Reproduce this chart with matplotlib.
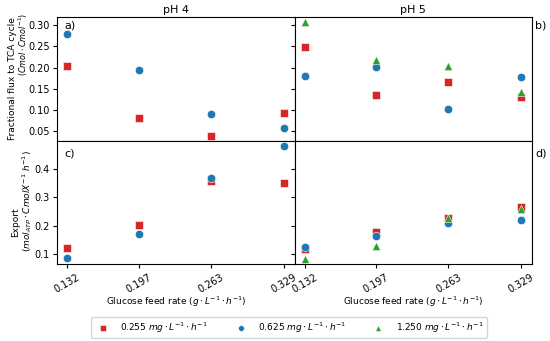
import numpy as np
from matplotlib import pyplot as plt

feed = [0.132, 0.197, 0.263, 0.329]
feed_labels = ['0.132', '0.197', '0.263', '0.329']
conc_labels = ['0.255 $mg \\cdot L^{-1} \\cdot h^{-1}$',
               '0.625 $mg \\cdot L^{-1} \\cdot h^{-1}$',
               '1.250 $mg \\cdot L^{-1} \\cdot h^{-1}$']

# fractional flux to TCA
tca_ph4_low = [0.203, 0.081, 0.039, 0.093]
tca_ph4_mid = [0.278, 0.195, 0.090, 0.057]
tca_ph5_low = [0.249, 0.135, 0.167, 0.131]
tca_ph5_mid = [0.180, 0.201, 0.103, 0.179]
tca_ph5_high = [0.307, 0.217, 0.203, 0.143]

# ATP export
atp_ph4_low = [0.120, 0.201, 0.358, 0.349]
atp_ph4_mid = [0.087, 0.170, 0.366, 0.478]
atp_ph5_low = [0.119, 0.176, 0.227, 0.264]
atp_ph5_mid = [0.123, 0.164, 0.210, 0.218]
atp_ph5_high = [0.083, 0.129, 0.225, 0.257]

colors = ['#d62728', '#1f77b4', '#2ca02c']
markers = ['s', 'o', '^']


def plotter():
    plt.rcParams.update({'font.size': 7})
    fig, axs = plt.subplots(2, 2, figsize=(5.5, 3.41), dpi=100, sharex=True, sharey='row')
    fig.subplots_adjust(left=0.104, right=0.967, top=0.95, bottom=0.225, wspace=0, hspace=0)

    data = {
        (0, 0): [tca_ph4_low, tca_ph4_mid, None],
        (0, 1): [tca_ph5_low, tca_ph5_mid, tca_ph5_high],
        (1, 0): [atp_ph4_low, atp_ph4_mid, None],
        (1, 1): [atp_ph5_low, atp_ph5_mid, atp_ph5_high],
    }
    for (r, c), series in data.items():
        ax = axs[r, c]
        for i, ys in enumerate(series):
            if ys is None:
                continue
            ax.scatter(feed, ys, s=36, c=colors[i], marker=markers[i], edgecolors='white',
                       linewidths=0.4, label=conc_labels[i], clip_on=False, zorder=3)

    axs[0, 0].set_xlim(0.1229, 0.339)
    axs[0, 0].set_ylim(0.028, 0.319)
    axs[1, 0].set_ylim(0.064, 0.498)
    axs[0, 0].set_yticks([0.05, 0.10, 0.15, 0.20, 0.25, 0.30])
    axs[1, 0].set_yticks([0.1, 0.2, 0.3, 0.4])
    for ax in axs.flat:
        ax.tick_params(labelsize=7, length=3, pad=2.5)
    for ax in axs[1]:
        ax.set_xticks(feed)
        ax.set_xticklabels(feed_labels, rotation=30)
        ax.set_xlabel('Glucose feed rate $(g \\cdot L^{-1} \\cdot h^{-1})$', fontsize=6.5, labelpad=0)

    axs[0, 0].set_title('pH 4', fontsize=8, pad=3)
    axs[0, 1].set_title('pH 5', fontsize=8, pad=3)

    # two-line y labels, second line smaller
    fig.text(0.022, 0.77, 'Fractional flux to TCA cycle', rotation=90, ha='center', va='center', fontsize=6.5)
    fig.text(0.042, 0.871, r'$(Cmol \cdot Cmol^{-1})$', rotation=90, ha='center', va='center', fontsize=5.8)
    fig.text(0.0285, 0.349, 'Export', rotation=90, ha='center', va='center', fontsize=6.5)
    fig.text(0.049, 0.41, r'$(mol_{ATP} \cdot CmolX^{-1}\ h^{-1})$', rotation=90, ha='center', va='center', fontsize=6.5)

    axs[0, 0].text(0.03, 0.935, 'a)', transform=axs[0, 0].transAxes, fontsize=8, va='center')
    axs[1, 0].text(0.03, 0.9, 'c)', transform=axs[1, 0].transAxes, fontsize=8, va='center')
    axs[0, 1].text(1.015, 0.935, 'b)', transform=axs[0, 1].transAxes, fontsize=8, va='center')
    axs[1, 1].text(1.015, 0.9, 'd)', transform=axs[1, 1].transAxes, fontsize=8, va='center')

    handles, labels = axs[0, 1].get_legend_handles_labels()
    fig.legend(handles, labels, loc='center', bbox_to_anchor=(0.525, 0.04), ncol=3,
               fontsize=6.5, markerscale=0.7, handletextpad=0.9, columnspacing=2.6, borderpad=0.4)

    fig.savefig('out.png', dpi=100)


if __name__ == '__main__':
    plotter()
